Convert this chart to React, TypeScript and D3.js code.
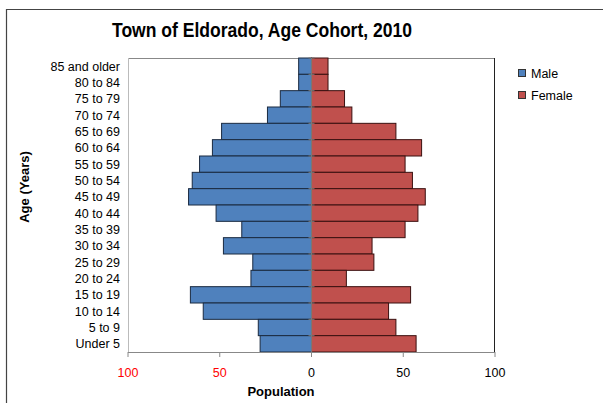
import React from "react";
import * as d3 from "d3";

const ageGroups = [
  "85 and older", "80 to 84", "75 to 79", "70 to 74", "65 to 69", "60 to 64",
  "55 to 59", "50 to 54", "45 to 49", "40 to 44", "35 to 39", "30 to 34",
  "25 to 29", "20 to 24", "15 to 19", "10 to 14", "5 to 9", "Under 5",
];
const male = [7, 7, 17, 24, 49, 54, 61, 65, 67, 52, 38, 48, 32, 33, 66, 59, 29, 28];
const female = [9, 9, 18, 22, 46, 60, 51, 55, 62, 58, 51, 33, 34, 19, 54, 42, 46, 57];
const xTicks = [-100, -50, 0, 50, 100];

const MALE = "#4F81BD";
const FEMALE = "#C0504D";
const FONT = "Liberation Sans, Arial, sans-serif";

const App: React.FC = () => {
  const width = 603;
  const height = 403;
  const plot = { left: 128, right: 495, top: 58, bottom: 352 };

  const x = d3.scaleLinear().domain([-100, 100]).range([plot.left, plot.right]);
  const y = d3.scaleBand().domain(ageGroups).range([plot.top, plot.bottom]).padding(0);

  return (
    <svg width={width} height={height} style={{ position: "absolute", left: 0, top: 0 }} fontFamily={FONT}>
      <rect x={0} y={0} width={width} height={height} fill="#fff" />
      {/* outer chart frame */}
      <line x1={6.5} x2={6.5} y1={9} y2={height} stroke="#444" strokeWidth={1.2} />
      <line x1={6} x2={width} y1={9.5} y2={9.5} stroke="#444" strokeWidth={1.2} />

      <text x={262} y={37} textAnchor="middle" fontSize={19.5} fontWeight="bold" textLength={300} lengthAdjust="spacingAndGlyphs">
        Town of Eldorado, Age Cohort, 2010
      </text>

      {/* plot area */}
      <line x1={plot.left} x2={plot.right} y1={plot.top + 0.5} y2={plot.top + 0.5} stroke="#888" />
      <line x1={plot.left + 0.5} x2={plot.left + 0.5} y1={plot.top} y2={plot.bottom} stroke="#bbb" />
      <line x1={plot.right - 0.5} x2={plot.right - 0.5} y1={plot.top} y2={plot.bottom} stroke="#222" />

      {ageGroups.map((g, i) => (
        <g key={g}>
          <rect
            x={x(-male[i])}
            y={y(g)!}
            width={x(0) - x(-male[i])}
            height={y.bandwidth()}
            fill={MALE}
            stroke="#1a2a40"
            strokeWidth={1}
          />
          <rect
            x={x(0)}
            y={y(g)!}
            width={x(female[i]) - x(0)}
            height={y.bandwidth()}
            fill={FEMALE}
            stroke="#3a1010"
            strokeWidth={1}
          />
          <text x={120} y={y(g)! + y.bandwidth() / 2} dy="0.35em" textAnchor="end" fontSize={12.5} fill="#000">
            {g}
          </text>
        </g>
      ))}

      {/* category axis at zero with ticks */}
      <line x1={x(0)} x2={x(0)} y1={plot.top} y2={plot.bottom} stroke="#777" strokeWidth={1.2} />
      {ageGroups.map((g) => (
        <line key={"t" + g} x1={x(0) - 3} x2={x(0) + 3} y1={y(g)!} y2={y(g)!} stroke="#777" />
      ))}

      {/* value axis */}
      <line x1={plot.left} x2={plot.right} y1={plot.bottom + 0.5} y2={plot.bottom + 0.5} stroke="#888" />
      {xTicks.map((t) => (
        <g key={t}>
          <line x1={x(t)} x2={x(t)} y1={plot.bottom} y2={plot.bottom + 5} stroke="#888" />
          <text x={x(t)} y={377} textAnchor="middle" fontSize={12.5} fill={t < 0 ? "#ff0000" : "#000"}>
            {Math.abs(t)}
          </text>
        </g>
      ))}
      <text x={281} y={396} textAnchor="middle" fontSize={13} fontWeight="bold">
        Population
      </text>
      <text transform="translate(29,187) rotate(-90)" textAnchor="middle" fontSize={13} fontWeight="bold">
        Age (Years)
      </text>

      {/* legend */}
      {[
        { label: "Male", color: MALE, y: 74 },
        { label: "Female", color: FEMALE, y: 96 },
      ].map((d) => (
        <g key={d.label}>
          <rect x={518.5} y={d.y - 4.5} width={7} height={7} fill={d.color} stroke="#333" strokeWidth={1} />
          <text x={531} y={d.y} dy="0.35em" fontSize={12.5}>
            {d.label}
          </text>
        </g>
      ))}
    </svg>
  );
};

export default App;
